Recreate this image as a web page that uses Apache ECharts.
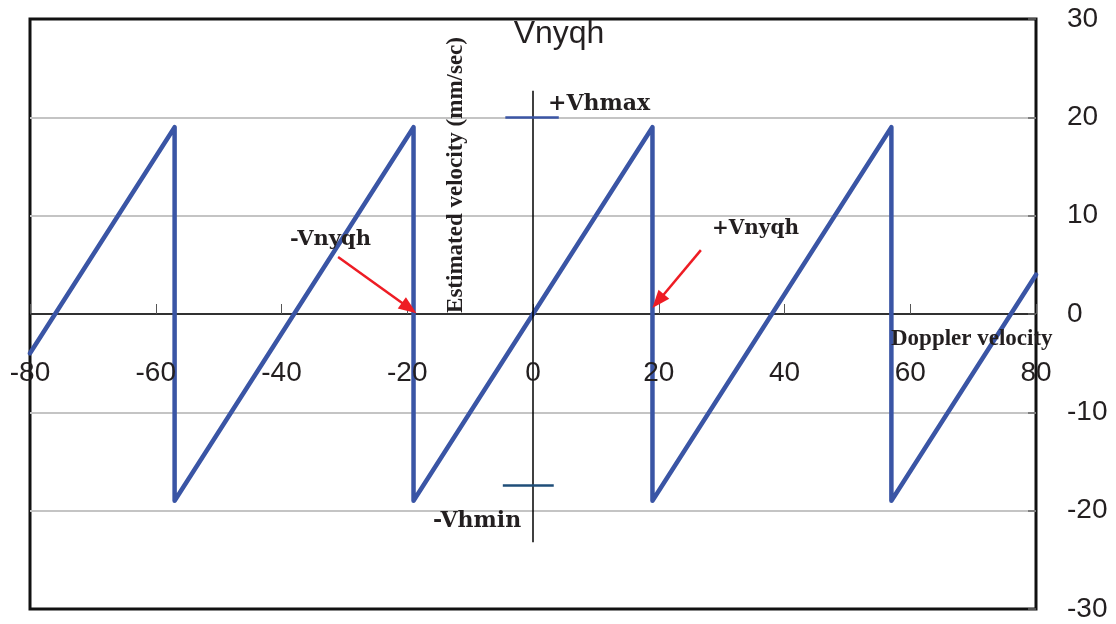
<!DOCTYPE html>
<html>
<head>
<meta charset="utf-8">
<script src="https://cdn.jsdelivr.net/npm/echarts@6/dist/echarts.min.js"></script>
<style>
  html, body { margin: 0; padding: 0; background: #fff; }
  #chart { width: 1116px; height: 624px; }
</style>
</head>
<body>
<div id="chart"></div>
<script>
// Corners of the aliased sawtooth: Doppler velocity in, estimated velocity out
const dopplerVelocity   = [-80, -57, -57, -19, -19, 19, 19, 57, 57, 80];
const estimatedVelocity = [ -4,  19, -19,  19, -19, 19, -19, 19, -19, 4];

// Axis tick values
const xTickValues = [-80, -60, -40, -20, 0, 20, 40, 60, 80];
const yTickValues = [-30, -20, -10, 0, 10, 20, 30];

// Reference levels and the short marker spans drawn at them
const vhMax = 20;
const vhMaxSpan = [-4.4, 4.1];
const vhMin = -17.4;
const vhMinSpan = [-4.8, 3.3];
const centreAxisSpan = [-23.2, 22.7];

// Arrows pointing at the Nyquist fold points
const negNyqArrow = [[-31.0, 5.8], [-19.7, 0.6]];
const posNyqArrow = [[26.7, 6.5], [19.9, 1.3]];

const seriesData = dopplerVelocity.map((x, i) => [x, estimatedVelocity[i]]);

const blue = '#3a55a5';
const ink = '#231f20';
const sans = '"Liberation Sans", Arial, sans-serif';
const serifWide = '"DejaVu Serif", serif';
const serifNarrow = '"Liberation Serif", serif';

const chart = echarts.init(document.getElementById('chart'), null, { renderer: 'canvas' });

function seg(a, b, style, endSymbol) {
  return [
    { coord: a, symbol: 'none', lineStyle: style },
    { coord: b, symbol: endSymbol || 'none' }
  ];
}

function label(text, x, y, font, extra) {
  return Object.assign({
    type: 'text', x: x, y: y, z: 10, silent: true,
    style: { text: text, align: 'left', verticalAlign: 'middle', font: font, fill: ink }
  }, extra || {});
}

chart.setOption({
  animation: false,
  backgroundColor: '#fff',
  grid: {
    left: 30, top: 19, width: 1006, height: 590,
    containLabel: false, outerBoundsMode: 'none',
    show: true, borderColor: '#111', borderWidth: 3, backgroundColor: '#fff'
  },
  xAxis: {
    type: 'value',
    min: xTickValues[0],
    max: xTickValues[xTickValues.length - 1],
    interval: xTickValues[1] - xTickValues[0],
    axisLine: { onZero: true, lineStyle: { color: '#000', width: 1.5 } },
    axisTick: { show: true, inside: true, length: 10, lineStyle: { color: '#555', width: 1 } },
    axisLabel: { show: false },
    splitLine: { show: false }
  },
  yAxis: {
    type: 'value',
    position: 'right',
    min: yTickValues[0],
    max: yTickValues[yTickValues.length - 1],
    interval: yTickValues[1] - yTickValues[0],
    axisLine: { show: false, onZero: false },
    axisTick: { show: true, inside: true, length: 8, lineStyle: { color: '#666', width: 1.5 } },
    axisLabel: { margin: 31, fontSize: 28, color: ink, align: 'left', fontFamily: sans, padding: [4, 0, 0, 0] },
    splitLine: { show: true, showMinLine: false, showMaxLine: false, lineStyle: { color: '#c4c4c4', width: 2 } }
  },
  series: [
    {
      name: 'references',
      type: 'line',
      data: [],
      silent: true,
      z: 3,
      markLine: {
        silent: true,
        animation: false,
        label: { show: false },
        emphasis: { disabled: true },
        data: [
          seg([0, centreAxisSpan[0]], [0, centreAxisSpan[1]], { color: '#000', width: 1.5, type: 'solid' }),
          seg([vhMaxSpan[0], vhMax], [vhMaxSpan[1], vhMax], { color: '#3a55a5', width: 2.5, type: 'solid' }),
          seg([vhMinSpan[0], vhMin], [vhMinSpan[1], vhMin], { color: '#1f4e79', width: 2.5, type: 'solid' })
        ]
      }
    },
    {
      name: 'Vnyqh',
      type: 'line',
      data: seriesData,
      showSymbol: false,
      symbol: 'none',
      z: 4,
      lineStyle: { color: blue, width: 4.5, cap: 'round', join: 'round' }
    },
    {
      name: 'arrows',
      type: 'line',
      data: [],
      silent: true,
      z: 5,
      markLine: {
        silent: true,
        animation: false,
        label: { show: false },
        emphasis: { disabled: true },
        symbolSize: [14, 18],
        data: [
          seg(negNyqArrow[0], negNyqArrow[1], { color: '#ee1c24', width: 2.5, type: 'solid' }, 'triangle'),
          seg(posNyqArrow[0], posNyqArrow[1], { color: '#ee1c24', width: 2.5, type: 'solid' }, 'triangle')
        ]
      }
    }
  ]
});

// X tick labels sit below the zero line, placed through the axis scale
const zeroY = chart.convertToPixel({ yAxisIndex: 0 }, 0);
const xLabels = xTickValues.map(v => ({
  type: 'text',
  x: chart.convertToPixel({ xAxisIndex: 0 }, v),
  y: zeroY + 59,
  z: 10,
  silent: true,
  style: { text: String(v), align: 'center', verticalAlign: 'middle', font: '28px ' + sans, fill: ink }
}));

chart.setOption({
  graphic: xLabels.concat([
    label('Vnyqh', 559, 34, '32px ' + sans, { style: { text: 'Vnyqh', align: 'center', verticalAlign: 'middle', font: '32px ' + sans, fill: ink } }),
    label('Estimated velocity (mm/sec)', 456, 175, 'bold 23px ' + serifNarrow,
      { rotation: Math.PI / 2, style: { text: 'Estimated velocity (mm/sec)', align: 'center', verticalAlign: 'middle', font: 'bold 23px ' + serifNarrow, fill: ink } }),
    label('+Vhmax', 548, 104, 'bold 22px ' + serifWide),
    label('-Vhmin', 433, 521, 'bold 22px ' + serifWide),
    label('-Vnyqh', 290, 240, 'bold 21px ' + serifWide),
    label('+Vnyqh', 712, 229, 'bold 20px ' + serifWide),
    label('Doppler velocity', 891, 339, 'bold 23px ' + serifNarrow)
  ])
});
</script>
</body>
</html>
